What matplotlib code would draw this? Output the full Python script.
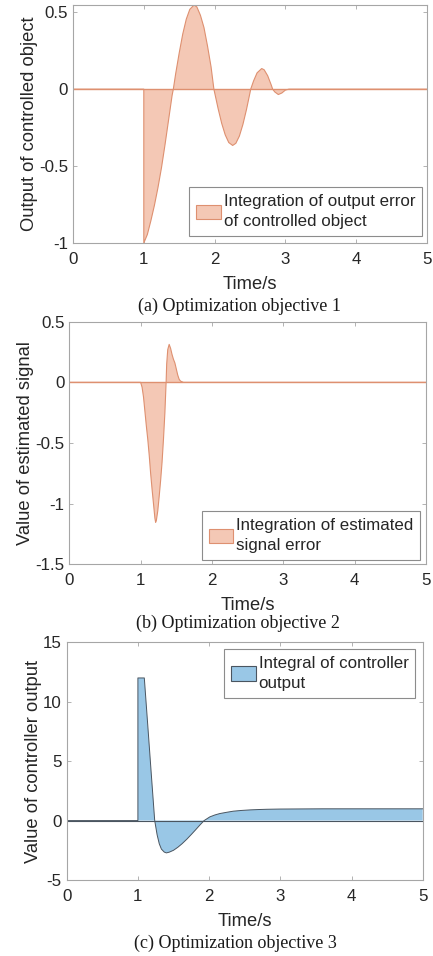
import matplotlib
matplotlib.use("Agg")
import matplotlib.pyplot as plt
from matplotlib.patches import Patch

plt.rcParams["font.family"] = ["Liberation Sans", "DejaVu Sans"]
plt.rcParams["axes.unicode_minus"] = False

# (a) output error of the controlled object
t_a = [0.0, 1.0, 1.0, 1.05, 1.10, 1.15, 1.20, 1.25, 1.30, 1.35, 1.40, 1.417,
       1.45, 1.50, 1.55, 1.60, 1.65, 1.71, 1.75, 1.80, 1.85, 1.90, 1.95, 1.99,
       2.05, 2.10, 2.15, 2.20, 2.255, 2.30, 2.35, 2.40, 2.45, 2.50, 2.51,
       2.55, 2.60, 2.665, 2.70, 2.75, 2.80, 2.82,
       2.85, 2.90, 2.95, 3.00, 3.05, 5.0]
e_a = [0.0, 0.0, -1.0, -0.945, -0.855, -0.755, -0.64, -0.51, -0.36, -0.20, -0.04, 0.0,
       0.10, 0.235, 0.358, 0.455, 0.519, 0.547, 0.534, 0.48, 0.40, 0.28, 0.145, 0.0,
       -0.127, -0.222, -0.297, -0.347, -0.366, -0.352, -0.305, -0.229, -0.133, -0.023, 0.0,
       0.053, 0.106, 0.134, 0.126, 0.087, 0.027, 0.0,
       -0.018, -0.035, -0.025, -0.006, 0.0, 0.0]

# (b) estimated signal error
t_b = [0.0, 1.00, 1.02, 1.04, 1.06, 1.08, 1.10, 1.12, 1.14, 1.16, 1.18, 1.20, 1.21,
       1.22, 1.24, 1.26, 1.28, 1.30, 1.32, 1.34, 1.357,
       1.365, 1.38, 1.40, 1.42, 1.44, 1.46, 1.48, 1.50, 1.52, 1.54, 1.56, 1.60, 5.0]
e_b = [0.0, 0.0, -0.04, -0.12, -0.24, -0.36, -0.47, -0.60, -0.75, -0.88, -1.00, -1.12, -1.154,
       -1.14, -1.06, -0.94, -0.81, -0.66, -0.47, -0.25, 0.0,
       0.15, 0.27, 0.313, 0.28, 0.23, 0.19, 0.16, 0.11, 0.06, 0.025, 0.01, 0.0, 0.0]

# (c) controller output
t_c = [0.0, 1.0, 1.0, 1.09, 1.14, 1.19, 1.236, 1.27, 1.30, 1.33, 1.37, 1.40, 1.44,
       1.50, 1.56, 1.62, 1.69, 1.75, 1.81, 1.87, 1.93, 2.01, 2.08, 2.15, 2.25,
       2.34, 2.45, 2.58, 2.70, 2.81, 3.0, 3.3, 3.6, 4.0, 4.5, 5.0]
u_c = [0.0, 0.0, 12.0, 12.0, 7.9, 3.75, 0.0, -1.2, -1.95, -2.4, -2.65, -2.72, -2.66,
       -2.50, -2.25, -1.95, -1.55, -1.17, -0.78, -0.38, 0.0, 0.31, 0.47, 0.59, 0.70,
       0.79, 0.85, 0.90, 0.93, 0.95, 0.97, 0.98, 0.99, 0.99, 0.99, 0.99]

x_ticks = [0, 1, 2, 3, 4, 5]
y_ticks_a = [-1, -0.5, 0, 0.5]
y_labels_a = ["-1", "-0.5", "0", "0.5"]
y_ticks_b = [-1.5, -1, -0.5, 0, 0.5]
y_labels_b = ["-1.5", "-1", "-0.5", "0", "0.5"]
y_ticks_c = [-5, 0, 5, 10, 15]
y_labels_c = ["-5", "0", "5", "10", "15"]

ORANGE_FACE = "#F4C8B5"
ORANGE_EDGE = "#DE9070"
BLUE_FACE = "#99C7E6"
BLUE_EDGE = "#4A5560"
TICK_FS = 12.2
LABEL_FS = 13.2
LEG_FS = 12.2
CAP_FS = 13

W, H = 433, 956
fig = plt.figure(figsize=(W / 100, H / 100), dpi=100)


def px_axes(left, top, right, bottom):
    return fig.add_axes([left / W, 1 - bottom / H, (right - left) / W, (bottom - top) / H])


def style(ax, yticks, ylabels, ylim, ylabel):
    ax.set_xlim(0, 5)
    ax.set_ylim(*ylim)
    ax.set_xticks(x_ticks)
    ax.set_xticklabels([str(v) for v in x_ticks])
    ax.set_yticks(yticks)
    ax.set_yticklabels(ylabels)
    for s in ax.spines.values():
        s.set_color("#A6A6A6")
        s.set_linewidth(0.8)
    ax.tick_params(direction="in", length=3, width=0.6, color="#A6A6A6",
                   top=True, right=True, labelsize=TICK_FS, labelcolor="#262626")
    ax.tick_params(axis="x", pad=6.5)
    ax.tick_params(axis="y", pad=3.5)
    ax.set_xlabel("Time/s", fontsize=LABEL_FS, color="#262626", labelpad=6.5)
    ax.set_ylabel(ylabel, fontsize=LABEL_FS, color="#262626", labelpad=1)


def add_legend(ax, face, edge, label, loc, anchor):
    h = Patch(facecolor=face, edgecolor=edge, linewidth=0.8)
    leg = ax.legend([h], [label], loc=loc, bbox_to_anchor=anchor,
                    bbox_transform=ax.transAxes, fancybox=False, framealpha=1,
                    edgecolor="#8C8C8C", fontsize=LEG_FS, borderpad=0.4,
                    handlelength=1.47, handleheight=0.92, handletextpad=0.15,
                    borderaxespad=0)
    leg.get_frame().set_linewidth(0.8)
    for t in leg.get_texts():
        t.set_color("#262626")
        t.set_linespacing(1.45)
    return leg


def caption(x, y, s):
    fig.text(x / W, 1 - y / H, s, ha="center", va="center",
             fontsize=CAP_FS, family="Liberation Serif", color="#1a1a1a")


# Panel (a)
ax1 = px_axes(73, 5, 427, 243)
ax1.fill_between(t_a, e_a, 0, facecolor=ORANGE_FACE, edgecolor="none")
ax1.plot(t_a, e_a, color=ORANGE_EDGE, lw=0.8)
ax1.plot([0, 5], [0, 0], color=ORANGE_EDGE, lw=1.0)
style(ax1, y_ticks_a, y_labels_a, (-1, 0.547), "Output of controlled object")
add_legend(ax1, ORANGE_FACE, ORANGE_EDGE, "Integration of output error\nof controlled object",
           "lower right", ((422 - 73) / 354, (243 - 236) / 238))
caption(239, 306, "(a) Optimization objective 1")

# Panel (b)
ax2 = px_axes(69.3, 321.7, 426, 564.3)
ax2.fill_between(t_b, e_b, 0, facecolor=ORANGE_FACE, edgecolor="none")
ax2.plot(t_b, e_b, color=ORANGE_EDGE, lw=0.8)
ax2.plot([0, 5], [0, 0], color=ORANGE_EDGE, lw=1.0)
style(ax2, y_ticks_b, y_labels_b, (-1.5, 0.5), "Value of estimated signal")
add_legend(ax2, ORANGE_FACE, ORANGE_EDGE, "Integration of estimated\nsignal error",
           "lower right", ((420 - 69.3) / 356.7, (564.3 - 560) / 242.6))
caption(238, 623, "(b) Optimization objective 2")

# Panel (c)
ax3 = px_axes(66.7, 642.3, 422.7, 880)
ax3.fill_between(t_c, u_c, 0, facecolor=BLUE_FACE, edgecolor="none")
ax3.plot(t_c, u_c, color=BLUE_EDGE, lw=0.7)
ax3.plot([0, 5], [0, 0], color=BLUE_EDGE, lw=0.8)
ax3.plot([5, 5], [0, u_c[-1]], color=BLUE_EDGE, lw=0.7)
style(ax3, y_ticks_c, y_labels_c, (-5, 15), "Value of controller output")
add_legend(ax3, BLUE_FACE, BLUE_EDGE, "Integral of controller\noutput",
           "upper right", ((415.3 - 66.7) / 356, 1 - (649 - 642.3) / 237.7))
caption(235, 943, "(c) Optimization objective 3")

fig.savefig("out.png", dpi=100, facecolor="white")
